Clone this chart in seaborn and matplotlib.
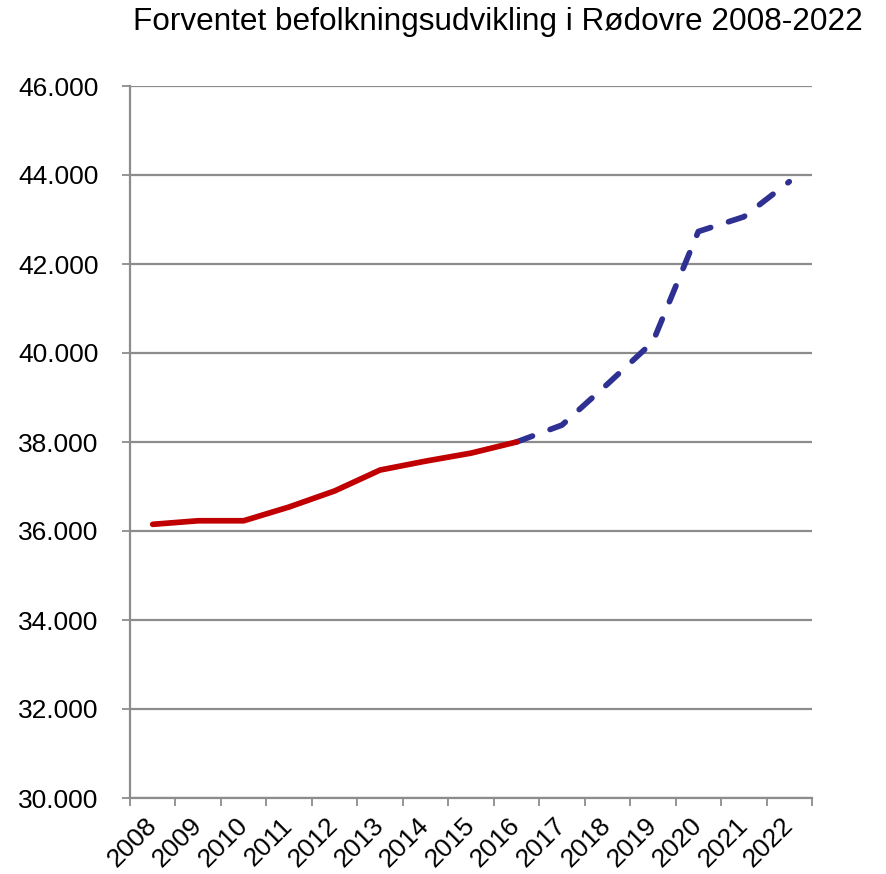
import numpy as np
import pandas as pd
import matplotlib
matplotlib.use("Agg")
import matplotlib.pyplot as plt
import matplotlib.ticker as mticker
import seaborn as sns

# Data
years = list(range(2008, 2023))
actual_years = [2008, 2009, 2010, 2011, 2012, 2013, 2014, 2015, 2016]
actual_pop = [36150, 36230, 36230, 36540, 36900, 37370, 37570, 37750, 38000]
forecast_years = [2016, 2017, 2018, 2019, 2020, 2021, 2022]
forecast_pop = [38000, 38380, 39300, 40250, 42730, 43060, 43850]

title = "Forventet befolkningsudvikling i Rødovre 2008-2022"

sns.set_style("white")
plt.rcParams['font.family'] = ['Liberation Sans', 'DejaVu Sans']
plt.rcParams['text.color'] = 'black'
plt.rcParams['xtick.labelcolor'] = 'black'
plt.rcParams['ytick.labelcolor'] = 'black'

df_act = pd.DataFrame({"pos": [years.index(y) for y in actual_years], "pop": actual_pop})
df_fc = pd.DataFrame({"pos": [years.index(y) for y in forecast_years], "pop": forecast_pop})

fig = plt.figure(figsize=(8.86, 8.74), dpi=100)
ax = fig.add_axes([130 / 886, 1 - 798 / 874, 682 / 886, 712 / 874])

grid_col = "#8c8c8c"
for v in range(30000, 46001, 2000):
    ax.axhline(v, color=grid_col, lw=1.6, zorder=0)

sns.lineplot(data=df_act, x="pos", y="pop", ax=ax, color="#c00000", lw=4.1,
             solid_capstyle="round", solid_joinstyle="round", zorder=3)
sns.lineplot(data=df_fc, x="pos", y="pop", ax=ax, color="#2e3192", lw=4.1,
             linestyle=(0, (3.0, 3.3)), dash_capstyle="round",
             dash_joinstyle="round", zorder=2)

ax.set_xlim(-0.5, len(years) - 0.5)
ax.set_ylim(30000, 46000)
ax.set_xlabel("")
ax.set_ylabel("")

ax.yaxis.set_major_locator(mticker.MultipleLocator(2000))
ax.yaxis.set_major_formatter(mticker.FuncFormatter(lambda v, p: f"{v:,.0f}".replace(",", ".")))

ax.xaxis.set_major_locator(mticker.FixedLocator(np.arange(-0.5, len(years), 1)))
ax.xaxis.set_major_formatter(mticker.NullFormatter())
ax.xaxis.set_minor_locator(mticker.FixedLocator(np.arange(len(years))))
ax.xaxis.set_minor_formatter(mticker.FixedFormatter([str(y) for y in years]))

ax.tick_params(axis="x", which="major", length=5.5, width=1.3, color=grid_col, direction="out", bottom=True)
ax.tick_params(axis="x", which="minor", length=0, pad=17, labelsize=19)
ax.tick_params(axis="y", length=5.5, width=1.3, color=grid_col, direction="out", left=True,
               pad=17, labelsize=19)
for lab in ax.get_xticklabels(minor=True):
    lab.set_rotation(45)
    lab.set_ha("right")
    lab.set_va("center")
    lab.set_rotation_mode("anchor")

for s in ["top", "right"]:
    ax.spines[s].set_visible(False)
for s in ["left", "bottom"]:
    ax.spines[s].set_color(grid_col)
    ax.spines[s].set_linewidth(1.6)

fig.text(498 / 886, 1 - 22 / 874, title, ha="center", va="center", fontsize=22.7)

fig.savefig("out.png", dpi=100)
